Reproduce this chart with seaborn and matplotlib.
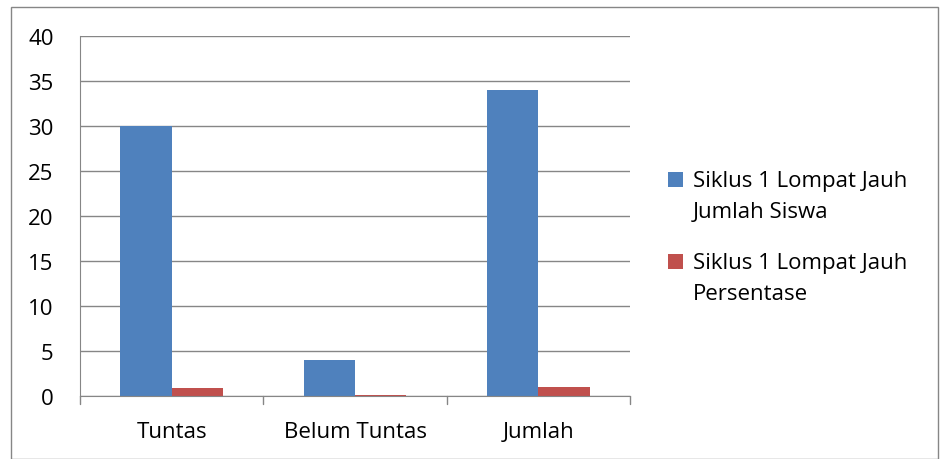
import matplotlib
matplotlib.use("Agg")
import matplotlib.pyplot as plt
import seaborn as sns
import pandas as pd
from matplotlib.patches import Rectangle

categories = ["Tuntas", "Belum Tuntas", "Jumlah"]
jumlah_siswa = [30, 4, 34]
persentase = [0.88, 0.12, 1.0]
series_names = ["Siklus 1 Lompat Jauh\nJumlah Siswa", "Siklus 1 Lompat Jauh\nPersentase"]
bar_colors = ["#4F81BD", "#C0504D"]
y_ticks = [0, 5, 10, 15, 20, 25, 30, 35, 40]

df = pd.DataFrame({
    "kategori": categories * 2,
    "nilai": jumlah_siswa + persentase,
    "seri": [series_names[0]] * 3 + [series_names[1]] * 3,
})

sns.set_style("white")
plt.rcParams["font.family"] = ["Open Sans", "DejaVu Sans"]
plt.rcParams["text.color"] = "black"

fig = plt.figure(figsize=(9.44, 4.6), dpi=100)
ax = fig.add_axes([80 / 944, 63 / 460, 550 / 944, 360 / 460])

sns.barplot(data=df, x="kategori", y="nilai", hue="seri",
            palette=bar_colors, width=0.56, ax=ax,
            saturation=1, edgecolor="none", legend=False)

ax.set_ylim(0, 40)
ax.set_xlim(-0.5, 2.5)
ax.set_yticks(y_ticks)
ax.set_yticklabels([str(t) for t in y_ticks], fontsize=16, color="black")
ax.set_xlabel("")
ax.set_ylabel("")
ax.tick_params(axis="x", labelsize=16, labelcolor="black", length=0, pad=18)
ax.tick_params(axis="y", length=7, width=1, color="#868686", direction="out", pad=12)
ax.yaxis.grid(True, color="#868686", linewidth=1)
ax.set_axisbelow(True)
for s in ["top", "right"]:
    ax.spines[s].set_visible(False)
ax.spines["left"].set_color("#868686")
ax.spines["bottom"].set_color("#868686")
ax.spines["bottom"].set_zorder(5)

# category tick marks between groups
for xb in [-0.5, 0.5, 1.5, 2.5]:
    ax.plot([xb, xb], [0, -8 / 360], color="#868686", lw=1, clip_on=False,
            transform=ax.get_xaxis_transform())

# legend drawn by hand (Excel-like wrapped labels with wider line spacing)
W, H = 944, 460
for name, col, ytop in zip(series_names, bar_colors, [180, 262]):
    fig.patches.append(Rectangle((668 / W, (H - ytop - 7.5) / H), 15 / W, 15 / H,
                                 transform=fig.transFigure, facecolor=col, edgecolor="none"))
    for i, line in enumerate(name.split("\n")):
        fig.text(693 / W, (H - ytop - 2 - i * 31) / H, line, fontsize=16, color="black",
                 va="center", ha="left", transform=fig.transFigure)

fig.patches.append(Rectangle((11 / W, 0), 927 / W, 452 / H, transform=fig.transFigure,
                             fill=False, edgecolor="#868686", linewidth=1))

fig.savefig("out.png", dpi=100)
